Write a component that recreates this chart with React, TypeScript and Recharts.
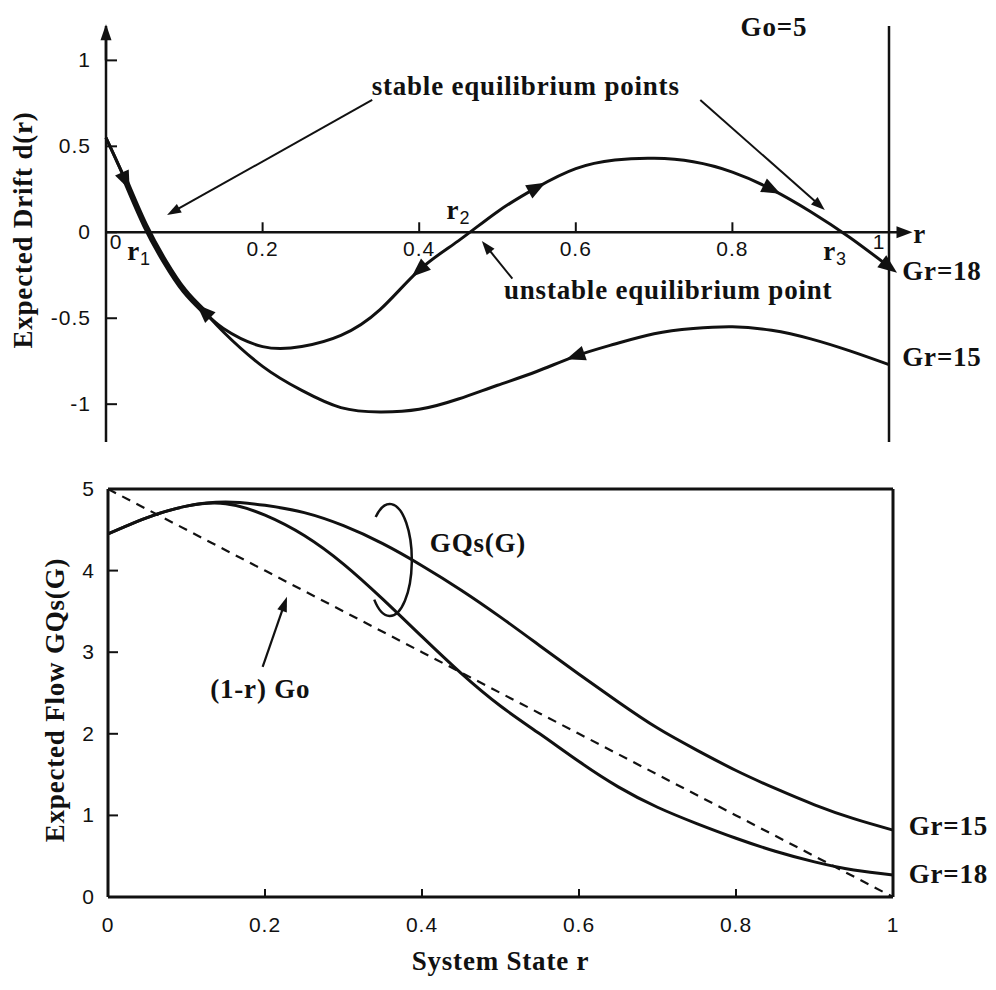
import React from "react";
import { LineChart, Line, XAxis, YAxis, ReferenceLine, ReferenceDot } from "recharts";

// ---- top panel: expected drift d(r)
const rDrift = [0, 0.025, 0.05, 0.075, 0.1, 0.125, 0.15, 0.2, 0.25, 0.3, 0.35, 0.4, 0.45, 0.5, 0.55, 0.6, 0.65, 0.7, 0.75, 0.8, 0.85, 0.9, 0.95, 1];
const drift18 = [0.55, 0.3, 0.04, -0.17, -0.34, -0.46, -0.56, -0.665, -0.665, -0.6, -0.45, -0.22, -0.05, 0.12, 0.26, 0.37, 0.42, 0.43, 0.41, 0.35, 0.25, 0.12, -0.03, -0.2];
const drift15 = [0.55, 0.3, 0.04, -0.17, -0.34, -0.46, -0.58, -0.78, -0.92, -1.02, -1.045, -1.03, -0.97, -0.89, -0.81, -0.72, -0.65, -0.59, -0.56, -0.55, -0.57, -0.62, -0.69, -0.77];
// shared stretch of both curves, drawn heavier
const overlapFrom = 0.025;
const overlapTo = 0.125;
// direction arrows on the curves: [r, +1 toward larger r / -1 toward smaller r]
const arrows18 = [[0.025, 1], [0.125, -1], [0.4, -1], [0.55, 1], [0.85, 1], [1, 1]];
const arrows15 = [[0.6, -1]];

const driftYTicks = [-1, -0.5, 0, 0.5, 1];
const driftRightTicks = [-1, -0.5, 0.5, 1];
const driftXTicks = [0, 0.2, 0.4, 0.6, 0.8, 1];

const driftNotes = [
  { x: 0.536, y: 0.8, text: "stable equilibrium points", anchor: "middle" },
  { x: 0.853, y: 1.14, text: "Go=5", anchor: "middle" },
  { x: 0.718, y: -0.39, text: "unstable equilibrium point", anchor: "middle" },
  { x: 1.017, y: -0.28, text: "Gr=18", anchor: "start" },
  { x: 1.017, y: -0.78, text: "Gr=15", anchor: "start" },
  { x: 1.031, y: -0.06, text: "r", anchor: "start" },
];
const driftRoots = [
  { x: 0.027, y: -0.16, sub: "1" },
  { x: 0.435, y: 0.08, sub: "2" },
  { x: 0.916, y: -0.16, sub: "3" },
];
const driftPointers = [
  { x1: 0.34, y1: 0.77, x2: 0.078, y2: 0.1 },
  { x1: 0.759, y1: 0.77, x2: 0.918, y2: 0.13 },
  { x1: 0.519, y1: -0.27, x2: 0.48, y2: -0.05 },
];

// ---- bottom panel: expected flow
const rFlow = [0, 0.05, 0.1, 0.15, 0.2, 0.25, 0.3, 0.35, 0.4, 0.45, 0.5, 0.55, 0.6, 0.65, 0.7, 0.75, 0.8, 0.85, 0.9, 0.95, 1];
const flow15 = [4.45, 4.65, 4.79, 4.84, 4.8, 4.71, 4.55, 4.33, 4.06, 3.76, 3.43, 3.08, 2.73, 2.39, 2.07, 1.8, 1.55, 1.33, 1.13, 0.96, 0.82];
const flow18 = [4.45, 4.65, 4.79, 4.82, 4.68, 4.43, 4.08, 3.65, 3.19, 2.74, 2.34, 2.0, 1.66, 1.35, 1.1, 0.9, 0.72, 0.56, 0.43, 0.33, 0.27];
const flowGo = [5, 4.75, 4.5, 4.25, 4, 3.75, 3.5, 3.25, 3, 2.75, 2.5, 2.25, 2, 1.75, 1.5, 1.25, 1, 0.75, 0.5, 0.25, 0];

const flowXTicks = [0, 0.2, 0.4, 0.6, 0.8, 1];
const flowInnerXTicks = [0.2, 0.4, 0.6, 0.8];
const flowYTicks = [0, 1, 2, 3, 4, 5];
const flowRightTicks = [1, 2, 3, 4];

const flowNotes = [
  { x: 0.41, y: 4.23, text: "GQs(G)", anchor: "start" },
  { x: 0.194, y: 2.44, text: "(1-r) Go", anchor: "middle" },
  { x: 1.02, y: 0.76, text: "Gr=15", anchor: "start" },
  { x: 1.02, y: 0.17, text: "Gr=18", anchor: "start" },
];
const flowPointer = { x1: 0.197, y1: 2.82, x2: 0.228, y2: 3.68 };
const flowLoop = { x: 0.359, y: 4.13 };

const driftData = rDrift.map((r, i) => ({
  r,
  gr18: drift18[i],
  gr15: drift15[i],
  overlap: r >= overlapFrom && r <= overlapTo ? drift18[i] : null,
  a18: arrows18.find((a) => a[0] === r)?.[1] ?? 0,
  a15: arrows15.find((a) => a[0] === r)?.[1] ?? 0,
}));

const flowData = rFlow.map((r, i) => ({ r, gr15: flow15[i], gr18: flow18[i], go: flowGo[i] }));

const SERIF = "'Liberation Serif', 'Times New Roman', serif";
const SANS = "'Liberation Sans', Arial, Helvetica, sans-serif";
const INK = "#111";

const titleStyle: React.CSSProperties = { fontFamily: SERIF, fontWeight: 700, fontSize: 27, letterSpacing: 0.8, fill: INK };
const tickStyle: React.CSSProperties = { fontFamily: SANS, fontSize: 21, letterSpacing: 1, fill: INK };

const leftTick = (p: any) => (
  <text x={p.x} y={p.y} dy={7} textAnchor="end" style={tickStyle}>
    {p.payload.value}
  </text>
);

const bottomTick = (p: any) => (
  <text x={p.x} y={p.y} dy={14} textAnchor="middle" style={tickStyle}>
    {p.payload.value}
  </text>
);

const yTitle = (text: string, dx: number, dy: number) => (p: any) => {
  const vb = p.viewBox || {};
  const x = (vb.x ?? 0) + dx;
  const y = (vb.y ?? 0) + (vb.height ?? 0) / 2 + dy;
  return (
    <text x={x} y={y} transform={`rotate(-90 ${x} ${y})`} textAnchor="middle" style={titleStyle}>
      {text}
    </text>
  );
};

const xTitle = (text: string, dy: number) => (p: any) => {
  const vb = p.viewBox || {};
  const x = (vb.x ?? 0) + (vb.width ?? 0) / 2;
  const y = (vb.y ?? 0) + dy;
  return (
    <text x={x} y={y} textAnchor="middle" style={titleStyle}>
      {text}
    </text>
  );
};

// line with a filled arrowhead at its end (x2, y2)
const arrowLine = (head: number, half: number, width: number) => (p: any) => {
  const { x1, y1, x2, y2 } = p;
  if ([x1, y1, x2, y2].some((v) => typeof v !== "number" || isNaN(v))) return <g />;
  const a = Math.atan2(y2 - y1, x2 - x1);
  const bx = x2 - head * Math.cos(a);
  const by = y2 - head * Math.sin(a);
  const pts = [
    [x2, y2],
    [bx + half * Math.sin(a), by - half * Math.cos(a)],
    [bx - half * Math.sin(a), by + half * Math.cos(a)],
  ];
  return (
    <g>
      <line x1={x1} y1={y1} x2={bx + Math.cos(a)} y2={by + Math.sin(a)} stroke={INK} strokeWidth={width} />
      <polygon points={pts.map((q) => q.join(",")).join(" ")} fill={INK} />
    </g>
  );
};

// triangle marker showing the drift direction along a curve
const arrowDot = (key: string) => (p: any) => {
  const k = `${key}-${p.index}`;
  const dir = p.payload?.[key];
  if (!dir || p.cx == null || p.cy == null) return <g key={k} />;
  const pts = p.points || [];
  const prev = pts[p.index - 1] || pts[p.index] || { x: p.cx - 1, y: p.cy };
  const next = pts[p.index + 1] || pts[p.index] || { x: p.cx + 1, y: p.cy };
  let a = Math.atan2(next.y - prev.y, next.x - prev.x);
  if (dir < 0) a += Math.PI;
  const c = Math.cos(a);
  const s = Math.sin(a);
  const tx = p.cx + 10 * c;
  const ty = p.cy + 10 * s;
  const bx = p.cx - 9 * c;
  const by = p.cy - 9 * s;
  const w = 7.5;
  const poly = `${tx},${ty} ${bx + w * s},${by - w * c} ${bx - w * s},${by + w * c}`;
  return (
    <g key={k}>
      <polygon points={poly} fill={INK} />
    </g>
  );
};

const noteShape = (text: string, anchor: string) => (p: any) => (
  <text x={p.cx} y={p.cy} textAnchor={anchor as any} style={titleStyle}>
    {text}
  </text>
);

const rootShape = (sub: string) => (p: any) => (
  <text x={p.cx} y={p.cy} style={titleStyle}>
    r
    <tspan dy={5} style={{ fontSize: 18, fontFamily: SANS, fontWeight: 400 }}>
      {sub}
    </tspan>
  </text>
);

const driftTickShape = (t: number) => (p: any) => {
  if (t === 0 || t === 1) {
    return (
      <text x={p.cx + (t === 0 ? 10 : -10)} y={p.cy + 17} textAnchor="middle" style={tickStyle}>
        {t}
      </text>
    );
  }
  return (
    <g>
      <line x1={p.cx} y1={p.cy} x2={p.cx} y2={p.cy - 10} stroke={INK} strokeWidth={2} />
      <text x={p.cx} y={p.cy + 24} textAnchor="middle" style={tickStyle}>
        {t}
      </text>
    </g>
  );
};

const loopShape = (p: any) => {
  const rx = 22;
  const ry = 56;
  const t1 = (-130 * Math.PI) / 180;
  const t2 = (135 * Math.PI) / 180;
  const sx = p.cx + rx * Math.cos(t1);
  const sy = p.cy + ry * Math.sin(t1);
  const ex = p.cx + rx * Math.cos(t2);
  const ey = p.cy + ry * Math.sin(t2);
  return <path d={`M${sx},${sy} A${rx},${ry} 0 1 1 ${ex},${ey}`} fill="none" stroke={INK} strokeWidth={2.5} />;
};

function DriftChart() {
  return (
    <LineChart width={996} height={460} data={driftData} margin={{ top: 26, right: 106, bottom: 18, left: 0 }}>
      <XAxis type="number" dataKey="r" domain={[0, 1]} hide />
      <YAxis
        type="number"
        domain={[-1.22, 1.2]}
        ticks={driftYTicks}
        width={106}
        tickSize={-11}
        tickMargin={26}
        axisLine={{ stroke: INK, strokeWidth: 2.5 }}
        tickLine={{ stroke: INK, strokeWidth: 2 }}
        tick={leftTick}
        label={yTitle("Expected Drift d(r)", 32, -4)}
      />
      <YAxis
        yAxisId="right"
        orientation="right"
        type="number"
        domain={[-1.22, 1.2]}
        ticks={driftRightTicks}
        width={1}
        tickSize={-10}
        tick={false}
        axisLine={{ stroke: INK, strokeWidth: 2.5 }}
        tickLine={{ stroke: INK, strokeWidth: 2 }}
      />
      <ReferenceLine segment={[{ x: 0, y: 0 }, { x: 1.03, y: 0 }]} ifOverflow="visible" shape={arrowLine(16, 6, 2.5)} />
      <ReferenceLine segment={[{ x: 0, y: 1.0 }, { x: 0, y: 1.21 }]} ifOverflow="visible" shape={arrowLine(16, 5.5, 2.5)} />
      {driftXTicks.map((t) => (
        <ReferenceDot key={`xt${t}`} x={t} y={0} r={0} ifOverflow="visible" shape={driftTickShape(t)} />
      ))}
      {driftPointers.map((a, i) => (
        <ReferenceLine
          key={`dp${i}`}
          segment={[{ x: a.x1, y: a.y1 }, { x: a.x2, y: a.y2 }]}
          ifOverflow="visible"
          shape={arrowLine(14, 5, 2)}
        />
      ))}
      <Line dataKey="overlap" type="natural" stroke={INK} strokeWidth={6} dot={false} activeDot={false} isAnimationActive={false} />
      <Line dataKey="gr15" type="natural" stroke={INK} strokeWidth={3} dot={arrowDot("a15")} activeDot={false} isAnimationActive={false} />
      <Line dataKey="gr18" type="natural" stroke={INK} strokeWidth={3} dot={arrowDot("a18")} activeDot={false} isAnimationActive={false} />
      {driftNotes.map((n) => (
        <ReferenceDot key={n.text} x={n.x} y={n.y} r={0} ifOverflow="visible" shape={noteShape(n.text, n.anchor)} />
      ))}
      {driftRoots.map((n) => (
        <ReferenceDot key={`root${n.sub}`} x={n.x} y={n.y} r={0} ifOverflow="visible" shape={rootShape(n.sub)} />
      ))}
    </LineChart>
  );
}

function FlowChart() {
  return (
    <LineChart width={996} height={530} data={flowData} margin={{ top: 28, right: 102, bottom: 0, left: 0 }}>
      <XAxis
        xAxisId="b"
        type="number"
        dataKey="r"
        domain={[0, 1]}
        ticks={flowXTicks}
        height={93}
        tickSize={-8}
        tickMargin={29}
        axisLine={{ stroke: INK, strokeWidth: 3 }}
        tickLine={{ stroke: INK, strokeWidth: 2 }}
        tick={bottomTick}
        label={xTitle("System State r", 73)}
      />
      <XAxis
        xAxisId="t"
        orientation="top"
        type="number"
        dataKey="r"
        domain={[0, 1]}
        ticks={flowInnerXTicks}
        height={1}
        tickSize={-8}
        tick={false}
        axisLine={{ stroke: INK, strokeWidth: 3 }}
        tickLine={{ stroke: INK, strokeWidth: 2 }}
      />
      <YAxis
        yAxisId="l"
        type="number"
        domain={[0, 5]}
        ticks={flowYTicks}
        width={108}
        tickSize={-10}
        tickMargin={23}
        axisLine={{ stroke: INK, strokeWidth: 3 }}
        tickLine={{ stroke: INK, strokeWidth: 2 }}
        tick={leftTick}
        label={yTitle("Expected Flow GQs(G)", 64, 7)}
      />
      <YAxis
        yAxisId="r"
        orientation="right"
        type="number"
        domain={[0, 5]}
        ticks={flowRightTicks}
        width={1}
        tickSize={-10}
        tick={false}
        axisLine={{ stroke: INK, strokeWidth: 3 }}
        tickLine={{ stroke: INK, strokeWidth: 2 }}
      />
      <Line xAxisId="b" yAxisId="l" dataKey="go" type="linear" stroke={INK} strokeWidth={2.2} strokeDasharray="9 7" dot={false} activeDot={false} isAnimationActive={false} />
      <Line xAxisId="b" yAxisId="l" dataKey="gr15" type="natural" stroke={INK} strokeWidth={3} dot={false} activeDot={false} isAnimationActive={false} />
      <Line xAxisId="b" yAxisId="l" dataKey="gr18" type="natural" stroke={INK} strokeWidth={3} dot={false} activeDot={false} isAnimationActive={false} />
      <ReferenceLine
        xAxisId="b"
        yAxisId="l"
        segment={[{ x: flowPointer.x1, y: flowPointer.y1 }, { x: flowPointer.x2, y: flowPointer.y2 }]}
        ifOverflow="visible"
        shape={arrowLine(15, 5, 2.2)}
      />
      <ReferenceDot xAxisId="b" yAxisId="l" x={flowLoop.x} y={flowLoop.y} r={0} ifOverflow="visible" shape={loopShape} />
      {flowNotes.map((n) => (
        <ReferenceDot
          key={n.text}
          xAxisId="b"
          yAxisId="l"
          x={n.x}
          y={n.y}
          r={0}
          ifOverflow="visible"
          shape={noteShape(n.text, n.anchor)}
        />
      ))}
    </LineChart>
  );
}

export default function App() {
  return (
    <div style={{ position: "absolute", left: 0, top: 0, width: 996, height: 990, background: "#fff" }}>
      <div style={{ position: "absolute", left: 0, top: 0 }}>
        <DriftChart />
      </div>
      <div style={{ position: "absolute", left: 0, top: 460 }}>
        <FlowChart />
      </div>
    </div>
  );
}
